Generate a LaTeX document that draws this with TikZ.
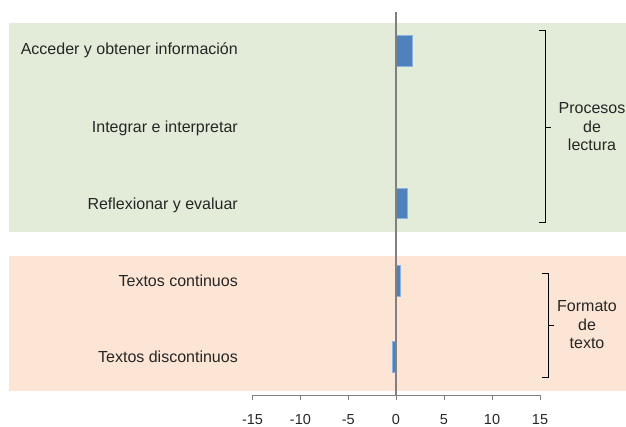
\documentclass[tikz,border=0pt]{standalone}
\usepackage{fontspec}
\setmainfont{Liberation Sans}
\definecolor{bggreen}{HTML}{E3ECD9}
\definecolor{bgorange}{HTML}{FDE5D5}
\definecolor{barblue}{HTML}{4F81BD}
\definecolor{baredge}{HTML}{8DB3E2}
\definecolor{axisgray}{HTML}{808080}
\definecolor{txt}{HTML}{262626}
\tikzset{
  lbl/.style={anchor=east, inner sep=0pt, font=\fontsize{16}{18}\selectfont, text=txt},
  grp/.style={align=center, inner sep=0pt, font=\fontsize{16}{18.5}\selectfont, text=txt},
  ticklbl/.style={anchor=center, inner sep=0pt, font=\fontsize{14.5}{17}\selectfont, text=txt},
  bar/.style={fill=barblue, draw=baredge, line width=0.8pt},
  brace/.style={draw=black, line width=0.9pt},
  axisline/.style={draw=axisgray, line width=1.6pt},
  tickline/.style={draw=axisgray, line width=1pt}
}
\begin{document}
\begin{tikzpicture}[x=1pt,y=-1pt]
\useasboundingbox (0,0) rectangle (626,427);
% backgrounds
\fill[bggreen] (9,23) rectangle (626,232);
\fill[bgorange] (9,256) rectangle (626,391);
% bars (scale 9.62 px per unit, zero at x=396)
\path[bar] (396,35) rectangle (412,66);
\path[bar] (396,188) rectangle (407,218);
\path[bar] (396,265) rectangle (400,296);
\path[bar] (392.5,341) rectangle (396,372);
% category labels
\node[lbl] (l1) at (238,50) {Acceder y obtener información};
\node[lbl] (l2) at (238,128) {Integrar e interpretar};
\node[lbl] (l3) at (238,205) {Reflexionar y evaluar};
\node[lbl] (l4) at (238,281) {Textos continuos};
\node[lbl] (l5) at (238,357) {Textos discontinuos};
% horizontal axis
\draw[tickline] (252.5,395) -- (540,395);
\foreach \v/\xx in {-15/252.5,-10/300.4,-5/348.3,0/396,5/444,10/492,15/540}{
  \draw[tickline] (\xx,395) -- (\xx,400);
  \node[ticklbl] (t\v) at (\xx,420) {\v};
}
% vertical axis
\draw[axisline] (396,12) -- (396,395);
% bracket Procesos de lectura
\draw[brace] (539,30) -- (545,30) -- (545,222) -- (539,222);
\draw[brace] (545,127) -- (551,127);
\node[grp] (g1) at (592,127) {Procesos\\de\\lectura};
% bracket Formato de texto
\draw[brace] (542,273) -- (548,273) -- (548,377) -- (542,377);
\draw[brace] (548,325) -- (554,325);
\node[grp] (g2) at (587,325) {Formato\\de\\texto};
\end{tikzpicture}
\end{document}
